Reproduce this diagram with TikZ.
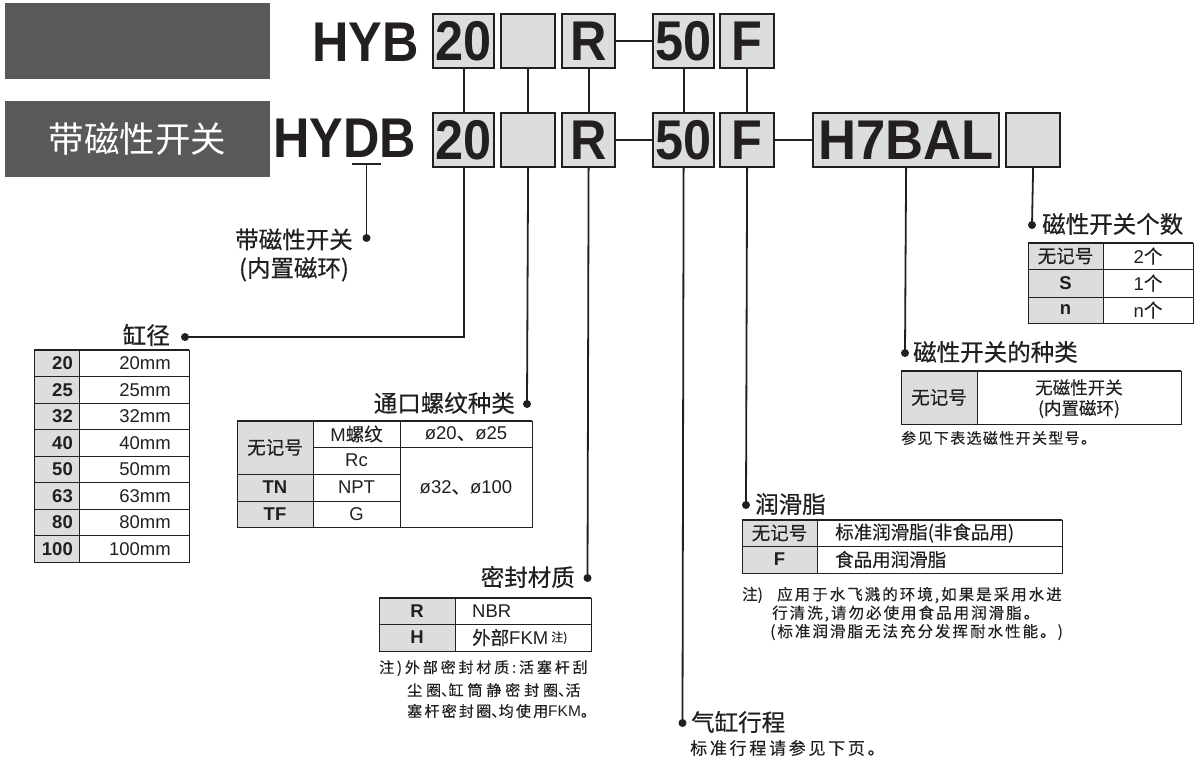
\documentclass[tikz,border=0pt]{standalone}
\usepackage{fontspec}
\usepackage{graphicx}
\setmainfont{Liberation Sans}
\newfontfamily\cjk[FakeBold=0.3]{Noto Sans CJK SC}
\newfontfamily\cjkl[FakeBold=0.6]{Noto Sans CJK SC}
\newfontfamily\cjkplain{Noto Sans CJK SC}
\newcommand\setfs[1]{\fontsize{#1}{#1}\selectfont}
\newcommand\bigcode[1]{\scalebox{0.9}[1]{\setfs{56}\bfseries #1}}
\newcommand\lsp[1]{\addfontfeature{LetterSpace=#1}}
\newcommand\halfw[1]{\makebox[0.5em][l]{#1}}
\definecolor{darkbox}{HTML}{58595B}
\definecolor{boxfill}{HTML}{DCDDDF}
\definecolor{ink}{HTML}{231F20}
\tikzset{
  codebox/.style={draw=ink, line width=2.2pt, fill=boxfill, inner sep=0pt, anchor=north west, minimum height=54pt, text=ink},
  conn/.style={draw=ink, line width=1.8pt},
  dotc/.style={circle, fill=ink, inner sep=0pt, minimum size=8pt},
  lbl/.style={font=\cjkl\setfs{23.5}, text=ink, inner sep=0pt},
  tc/.style={font=\cjk\setfs{18.5}, text=ink, inner sep=0pt},
  tb/.style={font=\setfs{18.5}\bfseries, text=ink, inner sep=0pt},
  tr/.style={font=\setfs{18.5}, text=ink, inner sep=0pt},
  tline/.style={draw=ink, line width=1pt},
  ttop/.style={draw=ink, line width=2pt},
  note/.style={font=\cjk\setfs{15}, text=ink, inner sep=0pt, anchor=west},
}
\begin{document}
\begin{tikzpicture}[x=1pt,y=-1pt]
\useasboundingbox (0,0) rectangle (1194,763);

% grey heading boxes
\node[fill=darkbox, minimum width=265pt, minimum height=76pt, anchor=north west, inner sep=0pt] (g1) at (5,3) {};
\node[fill=darkbox, minimum width=265pt, minimum height=76pt, anchor=north west, inner sep=0pt, text=white, font=\cjkplain\setfs{35.5}] (g2) at (5,101) {带磁性开关};

% model codes
\node[anchor=base west, inner sep=0pt, text=ink] (hyb) at (312,61.5) {\bigcode{HYB}};
\node[anchor=base west, inner sep=0pt, text=ink] (hydb) at (273,157.5) {\bigcode{HYDB}};

\node[codebox, minimum width=61pt] (a20) at (432,13) {\bigcode{20}};
\node[codebox, minimum width=54pt] (ae) at (500,13) {};
\node[codebox, minimum width=53pt] (ar) at (561,13) {\bigcode{R}};
\node[codebox, minimum width=61pt] (a50) at (652,13) {\bigcode{50}};
\node[codebox, minimum width=54pt] (af) at (719,13) {\bigcode{F}};

\node[codebox, minimum width=61pt] (b20) at (432,112) {\bigcode{20}};
\node[codebox, minimum width=54pt] (be) at (500,112) {};
\node[codebox, minimum width=53pt] (br) at (561,112) {\bigcode{R}};
\node[codebox, minimum width=61pt] (b50) at (652,112) {\bigcode{50}};
\node[codebox, minimum width=54pt] (bf) at (719,112) {\bigcode{F}};
\node[codebox, minimum width=186pt] (bh) at (812,112) {\scalebox{0.94}[1]{\setfs{56}\bfseries H7BAL}};
\node[codebox, minimum width=54pt] (bk) at (1005,112) {};

\draw[conn] (ar.east) -- (a50.west);
\draw[conn] (br.east) -- (b50.west);
\draw[conn] (bf.east) -- (bh.west);
\draw[conn] (a20.south) -- (b20.north);
\draw[conn] (ae.south) -- (be.north);
\draw[conn] (ar.south) -- (br.north);
\draw[conn] (a50.south) -- (b50.north);
\draw[conn] (af.south) -- (bf.north);

% D underline -> built-in magnet
\coordinate (u1) at (352,164);
\coordinate (u2) at (381,164);
\coordinate (u3) at (366.5,164);
\draw[draw=ink, line width=1.5pt] (u1) -- (u2);
\node[dotc] (d0) at (366.5,238) {};
\draw[conn] (u3) -- (d0.center);
\node[lbl, align=center] (l0) at (294,255) {带磁性开关\\[5pt](内置磁环)};

% bore size
\node[dotc] (d1) at (185,337) {};
\draw[conn] (b20.south) |- (d1.center);
\node[lbl, anchor=east] (l1) at (170,335) {缸径};
\fill[boxfill] (34,350) rectangle (79,562);
\draw[tline] (34,350) rectangle (189,562);
\foreach \i in {1,...,7} \draw[tline] (34,{350+26.5*\i}) -- (189,{350+26.5*\i});
\draw[tline] (79,350) -- (79,562);
\draw[ttop] (34,350) -- (189,350);
\foreach \v [count=\i] in {20,25,32,40,50,63,80,100} {
  \node[tb, anchor=east] (ka\i) at (73,{350+26.5*\i-13.25}) {\v};
  \node[tr, anchor=east] (kb\i) at (171,{350+26.5*\i-13.25}) {\v mm};
}

% port thread
\node[dotc] (d2) at (527,404) {};
\draw[conn] (be.south) -- (d2.center);
\node[lbl, anchor=east] (l2) at (515,403) {通口螺纹种类};
\fill[boxfill] (237,421) rectangle (313,527);
\draw[tline] (237,421) rectangle (532,527);
\draw[tline] (313,421) -- (313,527);
\draw[tline] (400,421) -- (400,527);
\draw[tline] (313,447) -- (532,447);
\draw[tline] (237,474) -- (400,474);
\draw[tline] (237,501) -- (400,501);
\draw[ttop] (237,421) -- (532,421);
\node[tc] (p1) at (275,447.5) {无记号};
\node[tb] (p2) at (275,487.5) {TN};
\node[tb] (p3) at (275,514) {TF};
\node[tr] (p4) at (356.5,434) {M{\cjk 螺纹}};
\node[tr] (p5) at (356.5,460.5) {Rc};
\node[tr] (p6) at (356.5,487.5) {NPT};
\node[tr] (p7) at (356.5,514) {G};
\node[tr] (p8) at (466,434) {ø20{\cjk 、}ø25};
\node[tr] (p9) at (466,487.5) {ø32{\cjk 、}ø100};

% seal material
\node[dotc] (d3) at (587.5,578) {};
\draw[conn] (br.south) -- (d3.center);
\node[lbl, anchor=east] (l3) at (575,577) {密封材质};
\fill[boxfill] (379,598) rectangle (455,651);
\draw[tline] (379,598) rectangle (591,651);
\draw[tline] (455,598) -- (455,651);
\draw[tline] (379,624) -- (591,624);
\draw[ttop] (379,598) -- (591,598);
\node[tb] (s1) at (417,611) {R};
\node[tb] (s2) at (417,637.5) {H};
\node[tr, anchor=west] (s3) at (472,611) {NBR};
\node[tr, anchor=west] (s4) at (472,637.5) {{\cjk 外部}FKM\,\raisebox{3pt}{\cjk\setfs{12}注)}};
\node[note] (n31) at (379,668) {\lsp{19}注)外部密封材质:活塞杆刮};
\node[note] (n32) at (407,690) {\lsp{26}尘圈\halfw{、}缸筒静密封圈\halfw{、}活};
\node[note] (n33) at (407,711) {\lsp{15}塞杆密封圈\halfw{、}均使用{\fontspec{Liberation Sans}\setfs{15.5}FKM}\halfw{。}};

% stroke
\node[dotc] (d4) at (682.5,723) {};
\draw[conn] (b50.south) -- (d4.center);
\node[lbl, anchor=west] (l4) at (691,722) {气缸行程};
\node[note, font=\cjk\setfs{17}] (n4) at (690,748) {\lsp{16}标准行程请参见下页。};

% grease
\node[dotc] (d5) at (746,505) {};
\draw[conn] (bf.south) -- (d5.center);
\node[lbl, anchor=west] (l5) at (755,504) {润滑脂};
\fill[boxfill] (742,520) rectangle (817,573);
\draw[tline] (742,520) rectangle (1062,573);
\draw[tline] (817,520) -- (817,573);
\draw[tline] (742,546) -- (1062,546);
\draw[ttop] (742,520) -- (1062,520);
\node[tc] (r1) at (779.5,533) {无记号};
\node[tb] (r2) at (779.5,559.5) {F};
\node[tc, anchor=west] (r3) at (835,533) {标准润滑脂(非食品用)};
\node[tc, anchor=west] (r4) at (835,559.5) {食品用润滑脂};
\node[note, font=\cjk\setfs{15.5}] (n51) at (742,595) {注)};
\node[note, font=\cjk\setfs{15.5}] (n52) at (777,595) {\lsp{13}应用于水飞溅的环境,如果是采用水进};
\node[note, font=\cjk\setfs{15.5}] (n53) at (772,613.5) {\lsp{13}行清洗,请勿必使用食品用润滑脂。};
\node[note, font=\cjk\setfs{15.5}] (n54) at (770,632) {\lsp{13}(标准润滑脂无法充分发挥耐水性能。)};

% switch type
\node[dotc] (d6) at (905,353) {};
\draw[conn] (bh.south) -- (d6.center);
\node[lbl, anchor=west] (l6) at (913,352) {磁性开关的种类};
\fill[boxfill] (901,371) rectangle (977,424);
\draw[tline] (901,371) rectangle (1181,424);
\draw[tline] (977,371) -- (977,424);
\draw[ttop] (901,371) -- (1181,371);
\node[tc] (w1) at (939,397.5) {无记号};
\node[tc, font=\cjk\setfs{17.5}] (w2) at (1079,387.5) {无磁性开关};
\node[tc, font=\cjk\setfs{17.5}] (w3) at (1079,409) {(内置磁环)};
\node[note] (n6) at (901,438) {\lsp{9}参见下表选磁性开关型号。};

% number of switches
\node[dotc] (d7) at (1032,225) {};
\draw[conn] (bk.south) -- (d7.center);
\node[lbl, anchor=west] (l7) at (1042,224) {磁性开关个数};
\fill[boxfill] (1028,243) rectangle (1103,323);
\draw[tline] (1028,243) rectangle (1193,323);
\draw[tline] (1103,243) -- (1103,323);
\draw[tline] (1028,269) -- (1193,269);
\draw[tline] (1028,297) -- (1193,297);
\draw[ttop] (1028,243) -- (1193,243);
\node[tc] (m1) at (1065.5,256) {无记号};
\node[tb] (m2) at (1065.5,283) {S};
\node[tb] (m3) at (1065.5,310) {n};
\node[tr] (m4) at (1148,256) {2{\cjk 个}};
\node[tr] (m5) at (1148,283) {1{\cjk 个}};
\node[tr] (m6) at (1148,310) {n{\cjk 个}};
\end{tikzpicture}
\end{document}
